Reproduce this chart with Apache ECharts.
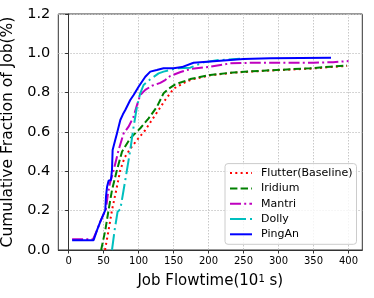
<!DOCTYPE html>
<html><head><meta charset="utf-8">
<script src="https://cdn.jsdelivr.net/npm/echarts@6/dist/echarts.min.js"></script>
<style>html,body{margin:0;padding:0;background:#fff}#c{width:374px;height:298px}</style>
</head><body><div id="c"></div>
<script>
const seriesNames = ['Flutter(Baseline)', 'Iridium', 'Mantri', 'Dolly', 'PingAn'];
const xTicks = [0, 50, 100, 150, 200, 250, 300, 350, 400];
const yTicks = [0, 0.2, 0.4, 0.6, 0.8, 1.0, 1.2];

const flutterX = [52, 57.1, 62, 68.1, 73.9, 80, 88.1, 97.7, 109.6, 119, 128.6, 138, 150, 165, 175, 202, 236, 279, 345, 374, 398];
const flutterY = [0, 0.10, 0.203, 0.305, 0.407, 0.47, 0.515, 0.559, 0.61, 0.661, 0.712, 0.763, 0.82, 0.85, 0.866, 0.888, 0.902, 0.911, 0.922, 0.93, 0.936];

const iridiumX = [46.5, 52.4, 57.1, 62, 69.1, 76.3, 88.1, 102.4, 114.3, 126.3, 135.7, 143, 152.4, 173.9, 202.4, 235.7, 278.6, 345, 373.9, 398];
const iridiumY = [0, 0.10, 0.203, 0.305, 0.407, 0.5, 0.568, 0.619, 0.669, 0.729, 0.797, 0.82, 0.842, 0.869, 0.89, 0.903, 0.912, 0.924, 0.932, 0.938];

const mantriX = [5, 35, 40.5, 45.3, 50.4, 53, 56, 59, 64, 71.4, 78.6, 85.7, 92.9, 97.7, 102.4, 109.6, 119, 131, 138, 145.3, 160, 173.9, 202.4, 231, 260, 300, 350, 378, 400];
const mantriY = [0.055, 0.055, 0.10, 0.144, 0.186, 0.2, 0.28, 0.34, 0.40, 0.508, 0.593, 0.627, 0.678, 0.737, 0.788, 0.814, 0.835, 0.85, 0.864, 0.885, 0.905, 0.92, 0.932, 0.949, 0.952, 0.952, 0.952, 0.955, 0.961];

const dollyX = [62, 65.7, 70, 73.9, 78.6, 83.4, 88.1, 92.9, 97.7, 102.4, 107.1, 116.7, 128.6, 135.7, 154.9, 173.9, 192.9, 212, 245];
const dollyY = [0, 0.10, 0.195, 0.207, 0.305, 0.407, 0.508, 0.627, 0.729, 0.797, 0.839, 0.868, 0.898, 0.907, 0.924, 0.927, 0.954, 0.965, 0.972];

const pinganX = [5, 35.7, 40.5, 45.3, 50.4, 52.4, 53.4, 54.9, 57.1, 60.5, 62, 62.9, 66.7, 69.1, 73.9, 77.6, 81, 88.1, 92.9, 100, 109.6, 116.7, 119, 126, 135.7, 150, 162, 178.6, 212, 250, 288, 375];
const pinganY = [0.05, 0.05, 0.10, 0.144, 0.186, 0.203, 0.271, 0.32, 0.352, 0.356, 0.407, 0.508, 0.56, 0.593, 0.661, 0.69, 0.712, 0.763, 0.788, 0.83, 0.881, 0.907, 0.912, 0.915, 0.924, 0.924, 0.93, 0.952, 0.961, 0.971, 0.975, 0.978];

const FONT = 'DejaVu Sans';
const colors = ['#ff0000', '#008000', '#bf00bf', '#00bfbf', '#0000ff'];
const dashes = [[2, 3.3], [7.4, 3.2], [11, 3.2, 2, 3.2], [16, 4, 2, 4], 'solid'];
const xs = [flutterX, iridiumX, mantriX, dollyX, pinganX];
const ys = [flutterY, iridiumY, mantriY, dollyY, pinganY];

const zip = (a, b) => a.map((v, i) => [v, b[i]]);

const chart = echarts.init(document.getElementById('c'), null, {renderer: 'canvas'});
chart.setOption({
  animation: false,
  backgroundColor: '#fff',
  textStyle: {fontFamily: FONT},
  grid: {left: 58.3, right: 11.7, top: 14, bottom: 48, containLabel: false, outerBoundsMode: 'none',
    show: true, borderColor: '#333', borderWidth: 1, backgroundColor: 'transparent'},
  xAxis: {
    type: 'value', min: -14.75, max: 419.75,
    name: 'Job Flowtime(10{sup|1} s)', nameLocation: 'middle', nameGap: 24,
    nameTextStyle: {fontSize: 15, color: '#000', fontFamily: FONT,
      rich: {sup: {fontSize: 10, verticalAlign: 'top', color: '#000', fontFamily: FONT}}},
    axisLine: {show: true, lineStyle: {color: '#333', width: 1}},
    axisTick: {show: true, length: 3.5, customValues: xTicks, lineStyle: {color: '#333'}},
    axisLabel: {customValues: xTicks, fontSize: 10, color: '#000', margin: 6, fontFamily: FONT},
    splitLine: {show: true, lineStyle: {type: [1.5, 1.5], color: '#c8c8c8', width: 1}}
  },
  yAxis: {
    type: 'value', min: 0, max: 1.2, interval: 0.2,
    name: 'Cumulative Fraction of Job(%)', nameLocation: 'middle', nameGap: 36.5,
    nameTextStyle: {fontSize: 15.5, color: '#000', fontFamily: FONT},
    axisLine: {show: true, lineStyle: {color: '#333', width: 1}},
    axisTick: {show: true, length: 3.5, lineStyle: {color: '#333'}},
    axisLabel: {fontSize: 14.5, color: '#000', margin: 8, fontFamily: FONT, formatter: v => v.toFixed(1)},
    splitLine: {show: true, lineStyle: {type: [1.5, 1.5], color: '#c8c8c8', width: 1}}
  },
  legend: {
    orient: 'vertical', right: 17.5, bottom: 53.7,
    itemWidth: 22, itemHeight: 12, itemGap: 4.3,
    padding: [4, 4, 4.5, 4],
    borderColor: '#cccccc', borderWidth: 1, borderRadius: 3,
    backgroundColor: 'rgba(255,255,255,0.8)',
    itemStyle: {opacity: 0},
    lineStyle: {opacity: 1},
    textStyle: {fontSize: 11, color: '#000', fontFamily: FONT, padding: [0, 0, 0, 4]},
    data: seriesNames
  },
  series: seriesNames.map((n, i) => ({
    name: n, type: 'line', symbol: 'none', showSymbol: false,
    data: zip(xs[i], ys[i]),
    lineStyle: {color: colors[i], width: 2, type: dashes[i]},
    itemStyle: {color: colors[i]},
    z: 2 + i
  }))
});
</script></body></html>
